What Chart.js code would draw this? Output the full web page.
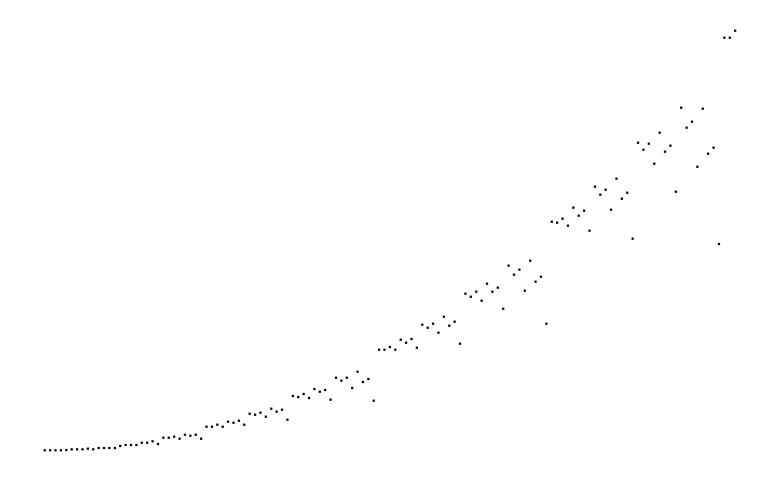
<!DOCTYPE html>
<html>
<head>
<meta charset="utf-8">
<script src="https://cdn.jsdelivr.net/npm/chart.js@4.4.1/dist/chart.umd.min.js"></script>
<style>
  html, body { margin: 0; padding: 0; background: #ffffff; }
  #wrap { width: 779px; height: 482px; }
</style>
</head>
<body>
<div id="wrap"><canvas id="c" width="779" height="482"></canvas></div>
<script>
const periods = Array.from({ length: 129 }, (_, i) => i);
const values = [
  6.58, 6.58, 6.58, 6.58, 6.64, 6.78, 6.78, 6.78,
  6.91, 6.78, 7.05, 7.05, 7.05, 7.05, 7.47, 7.68,
  7.68, 7.68, 8.15, 8.15, 8.44, 7.88, 9.19, 9.19,
  9.40, 8.98, 9.81, 9.61, 9.81, 8.98, 11.47, 11.47,
  11.89, 11.47, 12.51, 12.30, 12.72, 11.89, 14.17, 13.96,
  14.38, 13.55, 15.21, 14.59, 15.00, 12.93, 17.84, 17.63,
  18.26, 17.43, 19.29, 18.73, 19.09, 17.07, 21.64, 21.02,
  21.64, 19.50, 22.88, 20.75, 21.37, 16.87, 27.45, 27.45,
  28.01, 27.45, 29.52, 28.90, 29.67, 27.86, 32.63, 32.01,
  32.84, 30.98, 34.29, 32.43, 33.26, 28.69, 39.07, 38.44,
  39.48, 37.61, 41.14, 39.48, 40.31, 35.95, 44.88, 43.01,
  44.05, 39.69, 45.91, 41.56, 42.59, 32.84, 54.00, 53.80,
  54.63, 53.17, 56.91, 55.25, 56.29, 52.14, 61.27, 59.61,
  60.64, 56.49, 62.93, 58.78, 60.02, 50.48, 70.39, 68.94,
  70.19, 66.04, 72.47, 68.53, 69.77, 60.23, 77.66, 73.51,
  74.75, 65.41, 77.45, 68.11, 69.36, 49.38, 92.18, 92.18,
  93.63
];
const xRange = [-8.287, 136.13];
const yRange = [0, 100];

const points = periods.map((p, i) => ({ x: p, y: values[i] }));

new Chart(document.getElementById('c'), {
  type: 'scatter',
  data: {
    datasets: [{
      data: points,
      backgroundColor: '#000000',
      borderColor: '#000000',
      borderWidth: 0,
      pointStyle: 'rect',
      pointRadius: 1.6,
      pointHoverRadius: 1.6
    }]
  },
  options: {
    responsive: false,
    animation: false,
    devicePixelRatio: 1,
    layout: { padding: 0, autoPadding: false },
    plugins: { legend: { display: false }, tooltip: { enabled: false } },
    scales: {
      x: { type: 'linear', display: false, min: xRange[0], max: xRange[1] },
      y: { type: 'linear', display: false, min: yRange[0], max: yRange[1] }
    }
  }
});
</script>
</body>
</html>
